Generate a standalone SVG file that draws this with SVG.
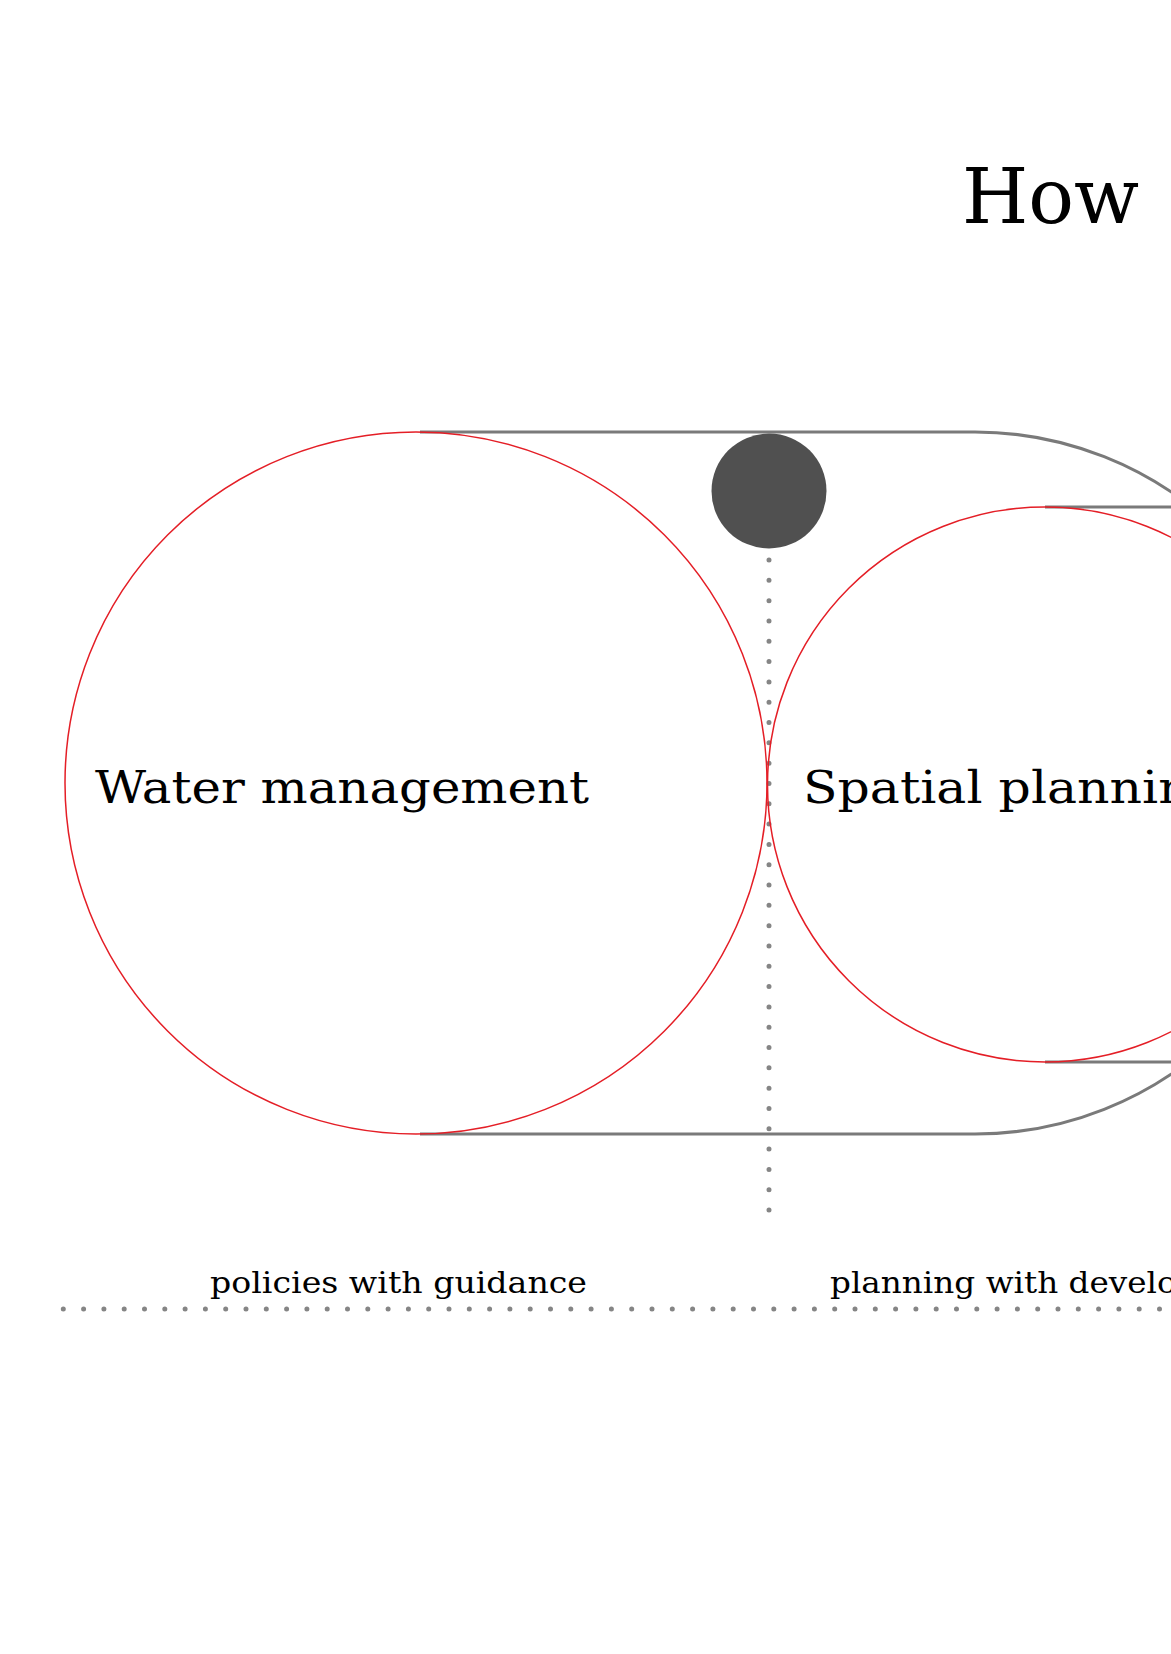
<svg xmlns="http://www.w3.org/2000/svg" width="1171" height="1654" viewBox="0 0 1171 1654">
<style>
.bg{fill:#ffffff}
.frame{fill:none;stroke:#7a7a7a;stroke-width:3}
.ring{fill:none;stroke:#e41e26;stroke-width:1.5}
.dots{fill:none;stroke:#858585;stroke-width:5;stroke-linecap:round}
.t{font-family:"DejaVu Serif","Liberation Serif",serif;fill:#000}
</style>
<rect class="bg" x="0" y="0" width="1171" height="1654"/>
<g id="title"><text class="t" x="962" y="223" font-size="76">How</text></g>
<g id="connectors">
<path class="frame" d="M420 432 H975 A351 351 0 0 1 975 1134 H420"/>
<path class="frame" d="M1045 507 H1171 M1045 1062 H1171"/>
<line class="dots" x1="769" y1="560" x2="769" y2="1211" stroke-dasharray="0 20.3125"/>
<line class="dots" x1="63.3" y1="1309" x2="1171" y2="1309" stroke-dasharray="0 20.3"/>
</g>
<g id="water-management">
<circle class="ring" cx="416" cy="783" r="351"/>
<text class="t" x="95" y="803" font-size="44" textLength="494" lengthAdjust="spacingAndGlyphs">Water management</text>
</g>
<g id="spatial-planning">
<circle class="ring" cx="1045" cy="784.5" r="277.5"/>
<text class="t" x="803" y="803" font-size="44" textLength="420" lengthAdjust="spacingAndGlyphs">Spatial planning</text>
</g>
<g id="marker-dot"><circle cx="769" cy="491" r="57.5" fill="#505050"/></g>
<g id="labels">
<text class="t" x="210" y="1293" font-size="29" textLength="377" lengthAdjust="spacingAndGlyphs">policies with guidance</text>
<text class="t" x="830" y="1293" font-size="29" textLength="452" lengthAdjust="spacingAndGlyphs">planning with development</text>
</g>
</svg>
